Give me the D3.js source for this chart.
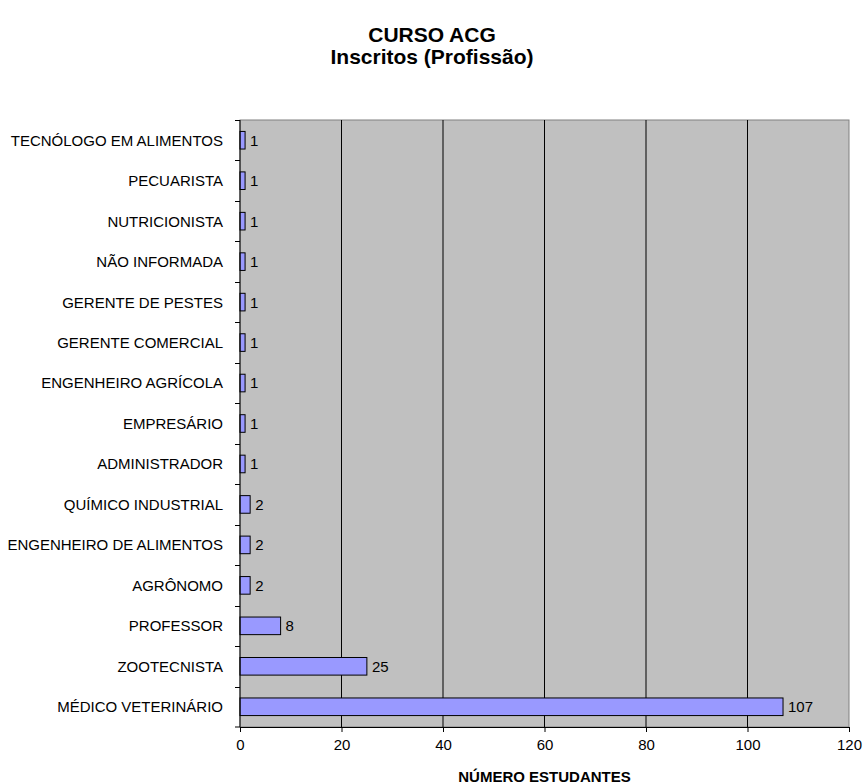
<!DOCTYPE html>
<html>
<head>
<meta charset="utf-8">
<script src="https://cdn.jsdelivr.net/npm/d3@7"></script>
<style>
  body { margin: 0; background: #fff; }
  text { font-family: "Liberation Sans", Arial, sans-serif; }
</style>
</head>
<body>
<div id="chart"></div>
<script>
// data (top to bottom)
var categories = ["TECNÓLOGO EM ALIMENTOS", "PECUARISTA", "NUTRICIONISTA", "NÃO INFORMADA",
  "GERENTE DE PESTES", "GERENTE COMERCIAL", "ENGENHEIRO AGRÍCOLA", "EMPRESÁRIO",
  "ADMINISTRADOR", "QUÍMICO INDUSTRIAL", "ENGENHEIRO DE ALIMENTOS", "AGRÔNOMO",
  "PROFESSOR", "ZOOTECNISTA", "MÉDICO VETERINÁRIO"];
var values = [1, 1, 1, 1, 1, 1, 1, 1, 1, 2, 2, 2, 8, 25, 107];
var xTicks = [0, 20, 40, 60, 80, 100, 120];

var margin = {top: 120, right: 14, bottom: 57, left: 240},
    width = 863 - margin.left - margin.right,
    height = 784 - margin.top - margin.bottom;

var svg = d3.select("#chart").append("svg")
    .attr("width", 863)
    .attr("height", 784);

// titles
svg.append("text").attr("x", 432).attr("y", 42)
    .attr("text-anchor", "middle").style("font-size", "21px").style("font-weight", "bold")
    .text("CURSO ACG");
svg.append("text").attr("x", 432).attr("y", 64)
    .attr("text-anchor", "middle").style("font-size", "21px").style("font-weight", "bold")
    .text("Inscritos (Profissão)");

var g = svg.append("g")
    .attr("transform", "translate(" + margin.left + "," + margin.top + ")");

var x = d3.scaleLinear().domain([0, 120]).range([0, width]);
var y = d3.scaleBand().domain(categories).range([0, height]).paddingInner(0.565).paddingOuter(0.2825);
var yOuter = d3.scaleBand().domain(categories).range([0, height]);

// plot background
g.append("rect")
    .attr("width", width).attr("height", height)
    .attr("fill", "#c0c0c0").attr("stroke", "#808080");

// gridlines
g.selectAll(".grid")
    .data(xTicks.filter(function(d) { return d > 0 && d < 120; }))
  .enter().append("line")
    .attr("x1", function(d) { return x(d); })
    .attr("x2", function(d) { return x(d); })
    .attr("y1", 0).attr("y2", height)
    .attr("stroke", "#000").attr("stroke-width", 1);

// bars
g.selectAll(".bar")
    .data(values)
  .enter().append("rect")
    .attr("class", "bar")
    .attr("x", x(0))
    .attr("y", function(d, i) { return y(categories[i]); })
    .attr("width", function(d) { return x(d) - x(0); })
    .attr("height", y.bandwidth())
    .attr("fill", "#9999ff").attr("stroke", "#000").attr("stroke-width", 1);

// value labels
g.selectAll(".val")
    .data(values)
  .enter().append("text")
    .attr("x", function(d) { return x(d) + 5; })
    .attr("y", function(d, i) { return y(categories[i]) + y.bandwidth() / 2; })
    .attr("dy", "0.36em")
    .style("font-size", "15px")
    .text(function(d) { return d; });

// x axis
var xAxis = d3.axisBottom(x).tickValues(xTicks).tickSize(5).tickPadding(7);
var gx = g.append("g").attr("transform", "translate(0," + height + ")").call(xAxis);
gx.selectAll("text").style("font-size", "15px").attr("fill", "#000");
gx.select(".domain").attr("stroke", "#000");

// y axis: ticks at band boundaries, labels at band centers
var gy = g.append("g");
gy.append("line").attr("x1", 0).attr("x2", 0).attr("y1", 0).attr("y2", height).attr("stroke", "#000");
gy.selectAll(".tk")
    .data(categories)
  .enter().append("line")
    .attr("x1", -5).attr("x2", 0)
    .attr("y1", function(d) { return Math.round(yOuter(d)) + 0.5; })
    .attr("y2", function(d) { return Math.round(yOuter(d)) + 0.5; })
    .attr("stroke", "#000");
gy.append("line").attr("x1", -5).attr("x2", 0).attr("y1", height).attr("y2", height).attr("stroke", "#000");
gy.selectAll(".lbl")
    .data(categories)
  .enter().append("text")
    .attr("x", -17)
    .attr("y", function(d) { return yOuter(d) + yOuter.bandwidth() / 2; })
    .attr("dy", "0.36em")
    .attr("text-anchor", "end")
    .style("font-size", "15px")
    .text(function(d) { return d; });

// x axis title
svg.append("text")
    .attr("x", margin.left + x(60)).attr("y", 782)
    .attr("text-anchor", "middle")
    .style("font-size", "15px").style("font-weight", "bold")
    .text("NÚMERO ESTUDANTES");
</script>
</body>
</html>
